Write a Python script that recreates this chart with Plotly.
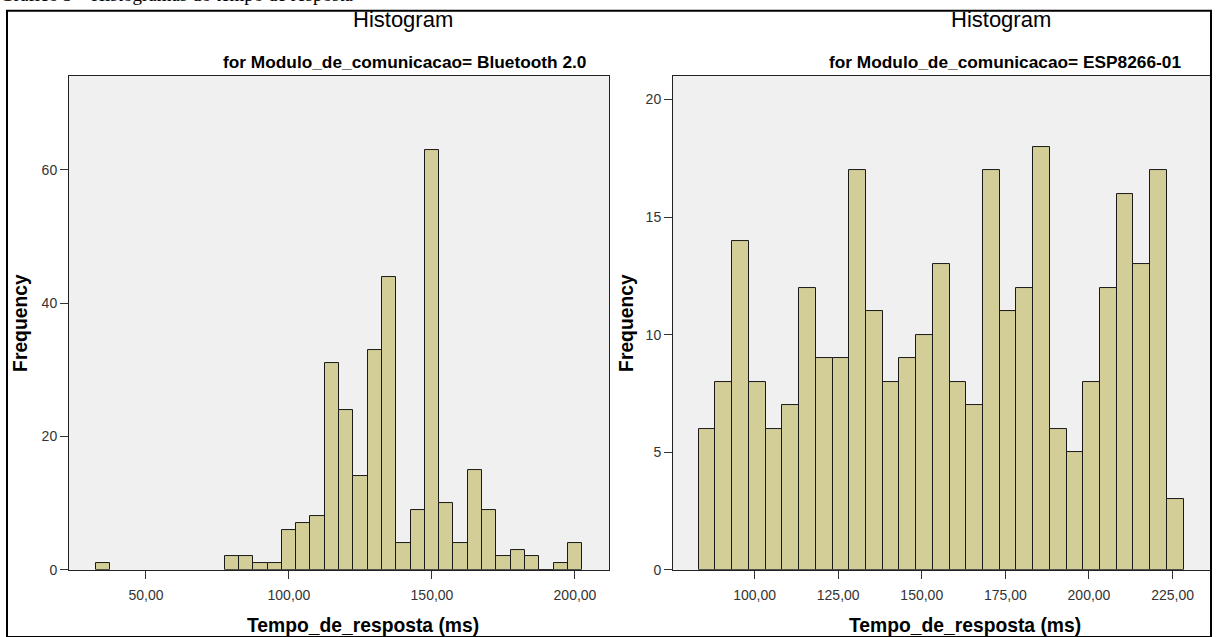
import plotly.graph_objects as go

W, H = 1219, 637

# ---- data ----
bt_bins = [35, 80, 85, 90, 95, 100, 105, 110, 115, 120, 125, 130, 135, 140,
           145, 150, 155, 160, 165, 170, 175, 180, 185, 190, 195, 200]
bt_freq = [1, 2, 2, 1, 1, 6, 7, 8, 31, 24, 14, 33, 44, 4,
           9, 63, 10, 4, 15, 9, 2, 3, 2, 0, 1, 4]

esp_bins = [85.8, 90.8, 95.8, 100.8, 105.8, 110.8, 115.8, 120.8, 125.8, 130.8,
            135.8, 140.8, 145.8, 150.8, 155.8, 160.8, 165.8, 170.8, 175.8, 180.8,
            185.8, 190.8, 195.8, 200.8, 205.8, 210.8, 215.8, 220.8, 225.8]
esp_freq = [6, 8, 14, 8, 6, 7, 12, 9, 9, 17,
            11, 8, 9, 10, 13, 8, 7, 17, 11, 12,
            18, 6, 5, 8, 12, 16, 13, 17, 3]

bt_xticks = [50, 100, 150, 200]
bt_xtext = ["50,00", "100,00", "150,00", "200,00"]
bt_yticks = [0, 20, 40, 60]

esp_xticks = [100, 125, 150, 175, 200, 225]
esp_xtext = ["100,00", "125,00", "150,00", "175,00", "200,00", "225,00"]
esp_yticks = [0, 5, 10, 15, 20]

BAR = "#D3CE97"
PLOTBG = "#F0F0F0"

def px(x):
    return x / W

def py(y):
    return 1 - y / H

fig = go.Figure()
fig.add_trace(go.Bar(x=bt_bins, y=bt_freq, width=5, xaxis="x", yaxis="y",
                     marker=dict(color=BAR, line=dict(color="#1a1a1a", width=1)),
                     showlegend=False))
fig.add_trace(go.Bar(x=esp_bins, y=esp_freq, width=5, xaxis="x2", yaxis="y2",
                     marker=dict(color=BAR, line=dict(color="#1a1a1a", width=1)),
                     showlegend=False))

tickfont = dict(family="Liberation Sans, Arial", size=14, color="#333333")
axcommon = dict(showgrid=False, zeroline=False, showline=True, linecolor="#222222",
                linewidth=1, mirror=True, ticks="outside", ticklen=8, tickcolor="#333333",
                tickfont=tickfont, fixedrange=True)

ydom = [py(577), py(77)]
fig.update_layout(
    width=W, height=H,
    margin=dict(l=0, r=0, t=0, b=0),
    paper_bgcolor="white",
    plot_bgcolor=PLOTBG,
    bargap=0,
    barmode="overlay",
    xaxis=dict(domain=[px(69), px(609)], range=[23.1, 211.9], anchor="y",
               tickvals=bt_xticks, ticktext=bt_xtext, ticklabelstandoff=4, **axcommon),
    yaxis=dict(domain=ydom, range=[0, 74.1], anchor="x",
               tickvals=bt_yticks, **axcommon),
    xaxis2=dict(domain=[px(673), px(1210)], range=[75.6, 236.2], anchor="y2",
                tickvals=esp_xticks, ticktext=esp_xtext, ticklabelstandoff=4, **axcommon),
    yaxis2=dict(domain=ydom, range=[0, 21.0], anchor="x2",
                tickvals=esp_yticks, **axcommon),
)

ann = []
def text(x, y, s, size, bold=False, angle=0, family="Liberation Sans, Arial", color="black",
         xanchor="center"):
    ann.append(dict(x=px(x), y=py(y), xref="paper", yref="paper", text=("<b>%s</b>" % s) if bold else s,
                    showarrow=False, textangle=angle, xanchor=xanchor, yanchor="middle",
                    font=dict(family=family, size=size, color=color)))

# caption (cut off at the top of the page, as in the source)
text(-2, -6, "Gráfico 3 – Histogramas do tempo de resposta", 19,
     family="Liberation Serif, Times New Roman", xanchor="left")

text(403, 20, "Histogram", 22)
text(404, 63, "for Modulo_de_comunicacao= Bluetooth 2.0", 17.3, bold=True)
text(1001, 20, "Histogram", 22)
text(1005, 63, "for Modulo_de_comunicacao= ESP8266-01", 17.3, bold=True)

text(21, 327, "Frequency", 19.3, bold=True, angle=-90)
text(627, 327, "Frequency", 19.3, bold=True, angle=-90)
text(363, 633, "Tempo_de_resposta (ms)", 19.3, bold=True)
text(965, 633, "Tempo_de_resposta (ms)", 19.3, bold=True)

fig.update_layout(annotations=ann)

# outer frame
fig.add_shape(type="rect", xref="paper", yref="paper",
              x0=px(7), x1=px(1211), y0=py(645), y1=py(11),
              line=dict(color="black", width=2), fillcolor="rgba(0,0,0,0)", layer="above")

fig.write_html("out.html")
